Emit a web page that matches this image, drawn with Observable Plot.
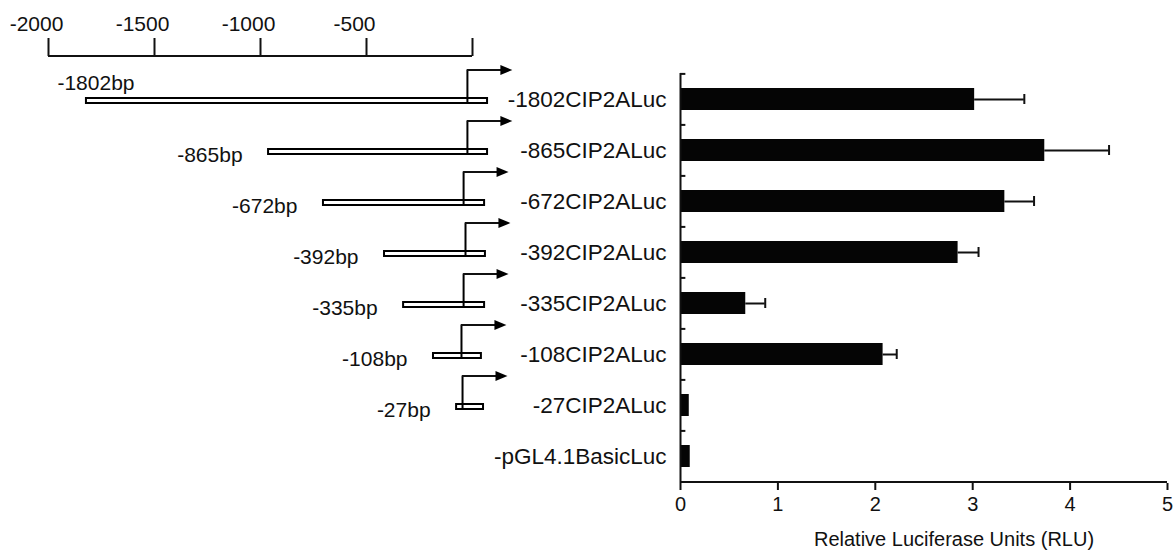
<!DOCTYPE html>
<html>
<head>
<meta charset="utf-8">
<script src="https://cdn.jsdelivr.net/npm/d3@7"></script>
<script src="https://cdn.jsdelivr.net/npm/@observablehq/plot@0.6"></script>
<style>
  body { margin: 0; background: #fff; }
  #fig { position: relative; width: 1175px; height: 554px; background: #fff; }
  #fig svg { position: absolute; top: 0; max-width: none; overflow: visible; }
</style>
</head>
<body>
<div id="fig"></div>
<script>
// ---- Promoter construct diagram (left) ----
const constructs = ["-1802bp", "-865bp", "-672bp", "-392bp", "-335bp", "-108bp", "-27bp"];
const regionStart = [-1821, -962, -703, -415, -325, -184, -75];   // drawn start (bp scale)
const regionEnd = [71, 71, 57, 61, 57, 42, 52];                   // drawn end (bp scale)
const tssPos = [-24, -24, -42, -33, -42, -52, -47];               // transcription start arrow
const scaleTicks = [-2000, -1500, -1000, -500, 0];
const scaleLabels = ["-2000", "-1500", "-1000", "-500"];

// ---- Luciferase assay (right) ----
const reporters = ["-1802CIP2ALuc", "-865CIP2ALuc", "-672CIP2ALuc", "-392CIP2ALuc",
                   "-335CIP2ALuc", "-108CIP2ALuc", "-27CIP2ALuc", "-pGL4.1BasicLuc"];
const rlu = [3.02, 3.74, 3.33, 2.85, 0.67, 2.08, 0.09, 0.10];
const rluErr = [0.51, 0.66, 0.30, 0.21, 0.20, 0.14, 0, 0];
const rluTicks = [0, 1, 2, 3, 4, 5];
const xTitle = "Relative Luciferase Units (RLU)";

const FONT = '"Liberation Sans", Arial, Helvetica, sans-serif';
const ARROW_LEN = 212; // arrow length in diagram bp units

const diagram = constructs.map((name, i) => ({
  name, start: regionStart[i], end: regionEnd[i], tss: tssPos[i], tip: tssPos[i] + ARROW_LEN
}));
const assay = reporters.map((name, i) => ({ name, v: rlu[i], e: rluErr[i] }));

const arrowHead = {
  draw(context, size) {
    context.moveTo(6, 0);
    context.lineTo(-6, -5);
    context.lineTo(-6, 5);
    context.closePath();
  }
};

const left = Plot.plot({
  width: 530, height: 554,
  marginLeft: 48, marginRight: 58, marginTop: 55, marginBottom: 100,
  style: { background: "transparent", fontFamily: FONT, fontSize: "21px", color: "#111", overflow: "visible" },
  x: { domain: [-2000, 0] },
  y: { type: "band", domain: constructs, range: [74.5, 432.7], paddingInner: 0.9, paddingOuter: 0.45, axis: null },
  marks: [
    Plot.axisX({ anchor: "top", ticks: scaleTicks, tickSize: 18, tickFormat: () => "", strokeWidth: 2, label: null }),
    Plot.ruleY([constructs[0]], { x1: scaleTicks[0], x2: scaleTicks[scaleTicks.length - 1], dy: -45, strokeWidth: 2 }),
    Plot.text(scaleLabels, { x: d => +d, text: d => d, frameAnchor: "top", dy: -39, dx: -12 }),
    Plot.barX(diagram, { y: "name", x1: "start", x2: "end", fill: "white", stroke: "black", strokeWidth: 2 }),
    Plot.tickX(diagram, { x: "tss", y: "name", insetTop: -28.5, strokeWidth: 2, stroke: "black" }),
    Plot.ruleY(diagram, { y: "name", x1: "tss", x2: "tip", insetRight: 8, dy: -31, strokeWidth: 2 }),
    Plot.dot(diagram, { x: "tip", y: "name", dy: -31, dx: -6, symbol: arrowHead, r: 5, fill: "black", stroke: null }),
    Plot.text(diagram.slice(0, 1), { x: "start", y: "name", text: "name", textAnchor: "start", dx: -29, dy: -18 }),
    Plot.text(diagram.slice(1), { x: "start", y: "name", text: "name", textAnchor: "end", dx: -26, dy: 3 })
  ]
});

const right = Plot.plot({
  width: 695, height: 554,
  marginLeft: 200, marginRight: 8, marginTop: 73, marginBottom: 71,
  style: { background: "transparent", fontFamily: FONT, fontSize: "20px", color: "#111", overflow: "visible" },
  x: { domain: [0, 5] },
  y: { domain: reporters, paddingInner: 0.56, paddingOuter: 0.28 },
  marks: [
    Plot.barX(assay, { x: "v", y: "name", fill: "#050505" }),
    Plot.ruleY(assay.filter(d => d.e > 0), { y: "name", x1: "v", x2: d => d.v + d.e, strokeWidth: 2 }),
    Plot.tickX(assay.filter(d => d.e > 0), { x: d => d.v + d.e, y: "name", strokeWidth: 2, insetTop: 6, insetBottom: 6 }),
    Plot.ruleX([0], { strokeWidth: 2 }),
    Plot.ruleY(assay, { y: "name", x1: 0, x2: 0.055, dy: -25.6, strokeWidth: 2 }),
    Plot.ruleY([reporters[reporters.length - 1]], { x1: 0, x2: 5, dy: 25.6, strokeWidth: 2 }),
    Plot.axisX({ ticks: rluTicks, tickSize: 7, tickPadding: 6, strokeWidth: 2, label: null, tickFormat: d3.format("d"), fontSize: 20 }),
    Plot.axisY({ tickSize: 0, tickPadding: 14, label: null, fontSize: 22.5 }),
    Plot.text([xTitle], { text: d => d, frameAnchor: "bottom", dx: 30, dy: 62 })
  ]
});

left.style.left = "0px";
right.style.left = "480px";
const fig = document.getElementById("fig");
fig.appendChild(left);
fig.appendChild(right);
</script>
</body>
</html>
